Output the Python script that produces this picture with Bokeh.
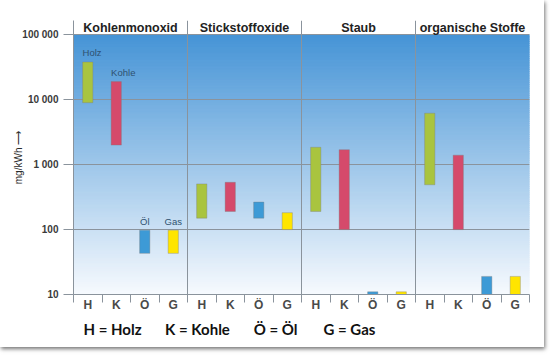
import numpy as np
from bokeh.plotting import figure
from bokeh.models import FixedTicker, Range1d, ColumnDataSource, LinearAxis
from bokeh.core.properties import value
from bokeh.embed import file_html
from bokeh.resources import INLINE

# ---- data ----
groups = ["Kohlenmonoxid", "Stickstoffoxide", "Staub", "organische Stoffe"]
fuels = ["H", "K", "Ö", "G"]
fuel_names = ["Holz", "Kohle", "Öl", "Gas"]
fuel_colors = ["#a9c43f", "#d54a6b", "#3d9ad6", "#ffe500"]

low_co = [9000, 2000, 43, 43]
high_co = [38000, 19000, 98, 98]
low_nox = [150, 190, 150, 100]
high_nox = [505, 535, 265, 182]
low_dust = [190, 100, 10, 10]
high_dust = [1850, 1700, 11, 11]
low_org = [490, 100, 10, 10]
high_org = [6200, 1400, 19, 19]

y_ticks = [10, 100, 1000, 10000, 100000]
y_tick_labels = ["10", "100", "1 000", "10 000", "100 000"]
legend_texts = ["H = Holz", "K = Kohle", "Ö = Öl", "G = Gas"]
legend_pos = [1.37, 4.35, 7.09, 9.68]

lows = [low_co, low_nox, low_dust, low_org]
highs = [high_co, high_nox, high_dust, high_org]

GRID = "#8a939c"

# ---- figure ----
p = figure(width=544, height=347, output_backend="svg", toolbar_location=None,
           y_axis_type="log",
           x_range=Range1d(0, 16), y_range=Range1d(10, 166000),
           min_border_left=73, min_border_right=15, min_border_top=20,
           min_border_bottom=53)
p.outline_line_color = None
p.background_fill_color = "white"
p.border_fill_color = "white"
p.styles = {"box-shadow": "1px 2px 4px rgba(0,0,0,0.55)"}

# gradient background (10 .. 100000)
n = 120
edges = np.logspace(1, 5, n + 1)
c_top = np.array([70, 148, 214])
c_bot = np.array([247, 250, 254])
cols = []
for i in range(n):
    t = (i + 0.5) / n
    c = c_bot + (c_top - c_bot) * t
    cols.append("#%02x%02x%02x" % tuple(int(round(v)) for v in c))
p.quad(left=0, right=16, bottom=edges[:-1], top=edges[1:], fill_color=cols,
       line_color=cols, line_width=1.2, level="image")

# grids
p.ygrid.ticker = FixedTicker(ticks=y_ticks)
p.ygrid.grid_line_color = GRID
p.ygrid.grid_line_width = 1
p.xgrid.ticker = FixedTicker(ticks=[0, 4, 8, 12, 16])
p.xgrid.grid_line_color = GRID
p.xgrid.grid_line_width = 1

# bars
xs, bots, tops, colors = [], [], [], []
for g in range(len(groups)):
    for f in range(len(fuels)):
        xs.append(g * 4 + f + 0.5)
        bots.append(lows[g][f])
        tops.append(highs[g][f])
        colors.append(fuel_colors[f])
src = ColumnDataSource(dict(x=xs, bottom=bots, top=tops, color=colors))
p.vbar(x="x", bottom="bottom", top="top", width=0.36, fill_color="color",
       line_color="#7a7a7a", line_alpha=0.45, line_width=0.8, source=src)

# fuel names above CO bars
p.text(x=[0.5 - 0.18, 1.5 - 0.18], y=high_co[:2], text=fuel_names[:2],
       text_align="left", text_baseline="bottom", y_offset=-4,
       text_font=value("Liberation Sans"), text_font_size="9.5px",
       text_color="#2f5170")
p.text(x=[2.5, 3.5], y=high_co[2:], text=fuel_names[2:],
       text_align="center", text_baseline="bottom", y_offset=-3,
       text_font=value("Liberation Sans"), text_font_size="9.5px",
       text_color="#2f5170")

# group headers
p.text(x=[2, 6, 10, 14], y=[10 ** 5.11] * 4, text=groups,
       text_align="center", text_baseline="middle",
       text_font=value("Liberation Sans"), text_font_style="bold",
       text_font_size="12.5px", text_color="#222222")

# y axis
ya = p.yaxis[0]
ya.ticker = FixedTicker(ticks=y_ticks)
ya.major_label_overrides = {t: l for t, l in zip(y_ticks, y_tick_labels)}
ya.major_tick_out = 10
ya.major_tick_in = 0
ya.minor_tick_line_color = None
ya.major_tick_line_color = GRID
ya.axis_line_color = GRID
ya.major_label_text_font = "Liberation Sans"
ya.major_label_text_font_style = "bold"
ya.major_label_text_font_size = "10px"
ya.major_label_text_color = "#3a3a3a"
ya.major_label_standoff = 5
ya.axis_label = "mg/kWh \u27f6"
ya.axis_label_text_font = "Liberation Sans"
ya.axis_label_text_font_style = "normal"
ya.axis_label_text_font_size = "10px"
ya.axis_label_text_color = "#2a2a2a"
ya.axis_label_standoff = -5

# x axis (fuel letters)
centers = [g * 4 + f + 0.5 for g in range(4) for f in range(4)]
xa = p.xaxis[0]
xa.ticker = FixedTicker(ticks=centers, minor_ticks=list(range(17)))
xa.major_label_overrides = {c: fuels[i % 4] for i, c in enumerate(centers)}
xa.major_tick_line_color = None
xa.major_tick_out = 0
xa.minor_tick_out = 8
xa.minor_tick_in = 0
xa.minor_tick_line_color = GRID
xa.axis_line_color = GRID
xa.major_label_standoff = -5
xa.major_label_text_font = "Liberation Sans"
xa.major_label_text_font_style = "bold"
xa.major_label_text_font_size = "12px"
xa.major_label_text_color = "#4a4a4a"

# legend line as a second, bare axis
la = LinearAxis(ticker=FixedTicker(ticks=legend_pos),
                major_label_overrides={x: t for x, t in zip(legend_pos, legend_texts)})
la.axis_line_color = None
la.major_tick_line_color = None
la.minor_tick_line_color = None
la.major_tick_out = 0
la.major_tick_in = 0
la.major_label_standoff = 5
la.major_label_text_font = "Lato"
la.major_label_text_font_style = "bold"
la.major_label_text_font_size = "15px"
la.major_label_text_color = "#111111"
p.add_layout(la, "below")

open("out.html", "w").write(file_html(p, INLINE))
